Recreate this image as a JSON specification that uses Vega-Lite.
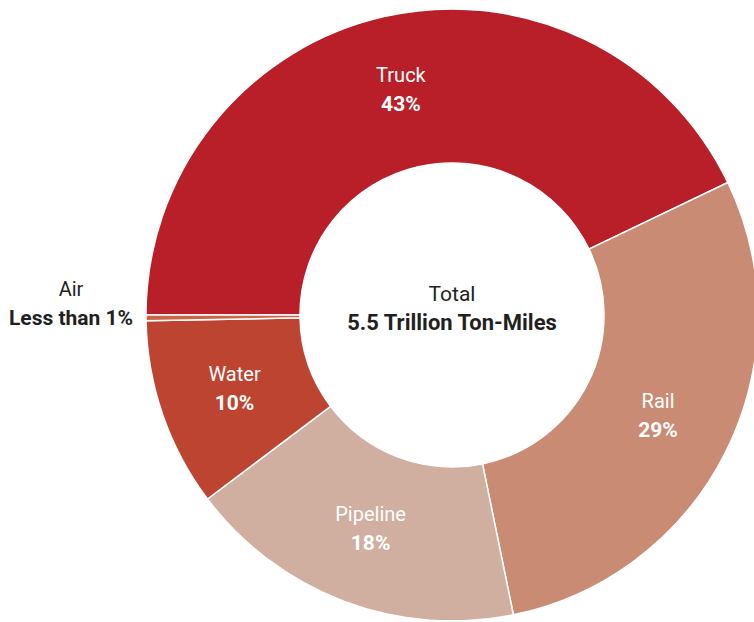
{
  "$schema": "https://vega.github.io/schema/vega-lite/v6.json",
  "width": 610,
  "height": 610,
  "autosize": {"type": "none"},
  "padding": {"left": 147, "top": 10, "right": 0, "bottom": 0},
  "background": "white",
  "view": {"stroke": null},
  "data": {
    "values": [
      {"rank": 1, "mode": "Truck", "value": 43, "pct": "43%"},
      {"rank": 2, "mode": "Rail", "value": 29, "pct": "29%"},
      {"rank": 3, "mode": "Pipeline", "value": 18, "pct": "18%"},
      {"rank": 4, "mode": "Water", "value": 10, "pct": "10%"},
      {"rank": 5, "mode": "Air", "value": 0.3, "pct": "Less than 1%"}
    ]
  },
  "encoding": {
    "theta": {"field": "value", "type": "quantitative", "stack": true, "scale": {"range": [-1.5708, 4.7124]}},
    "order": {"field": "rank", "type": "quantitative"}
  },
  "layer": [
    {
      "mark": {"type": "arc", "outerRadius": 306, "innerRadius": 152, "stroke": "white", "strokeWidth": 1.5},
      "encoding": {
        "color": {
          "field": "mode", "type": "nominal", "legend": null,
          "scale": {"domain": ["Truck", "Rail", "Pipeline", "Water", "Air"], "range": ["#B91F28", "#C98B74", "#D0AEA0", "#BC4430", "#C8664A"]}
        }
      }
    },
    {
      "mark": {"type": "text", "radius": 230, "dy": -15, "font": "Roboto", "fontSize": 20, "color": "white"},
      "encoding": {
        "text": {"field": "mode"},
        "opacity": {"condition": {"test": "datum.mode === 'Air'", "value": 0}, "value": 1}
      }
    },
    {
      "mark": {"type": "text", "radius": 230, "dy": 14, "font": "Roboto", "fontSize": 21, "fontWeight": "bold", "color": "white"},
      "encoding": {
        "text": {"field": "pct"},
        "opacity": {"condition": {"test": "datum.mode === 'Air'", "value": 0}, "value": 1}
      }
    },
    {
      "mark": {"type": "text", "radius": 381, "dy": -29, "font": "Roboto", "fontSize": 20, "color": "#231F20"},
      "encoding": {
        "text": {"field": "mode"},
        "opacity": {"condition": {"test": "datum.mode === 'Air'", "value": 1}, "value": 0}
      }
    },
    {
      "mark": {"type": "text", "radius": 381, "dy": 0, "font": "Roboto", "fontSize": 21, "fontWeight": "bold", "color": "#231F20"},
      "encoding": {
        "text": {"field": "pct"},
        "opacity": {"condition": {"test": "datum.mode === 'Air'", "value": 1}, "value": 0}
      }
    },
    {
      "data": {"values": [{"line1": "Total", "line2": "5.5 Trillion Ton-Miles"}]},
      "layer": [
        {
          "mark": {"type": "text", "dy": -20, "font": "Roboto", "fontSize": 21, "color": "#231F20"},
          "encoding": {"text": {"field": "line1"}, "theta": null, "order": null}
        },
        {
          "mark": {"type": "text", "dy": 8, "font": "Roboto", "fontSize": 22, "fontWeight": "bold", "color": "#231F20"},
          "encoding": {"text": {"field": "line2"}, "theta": null, "order": null}
        }
      ]
    }
  ]
}
